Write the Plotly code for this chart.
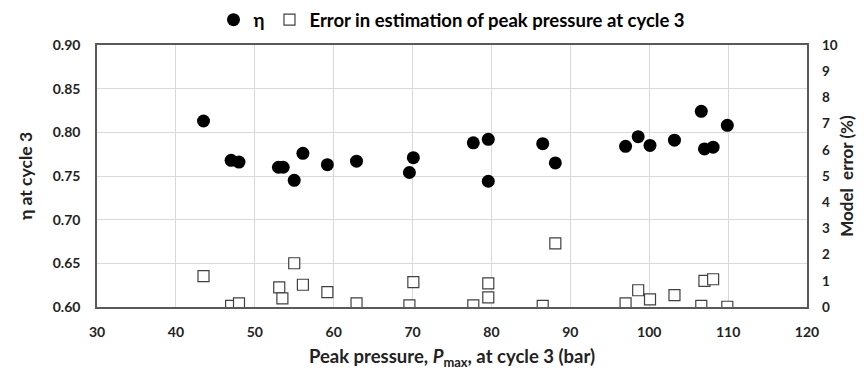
import plotly.graph_objects as go

# Peak pressure (bar) at cycle 3
p_max = [43.5, 47.0, 48.0, 53.0, 53.6, 55.0, 56.1, 59.2, 62.9, 69.6, 70.1,
         77.7, 79.6, 79.6, 86.5, 88.1, 97.0, 98.6, 100.1, 103.2, 106.6, 107.0, 108.1, 109.9]
eta = [0.813, 0.768, 0.766, 0.760, 0.760, 0.745, 0.776, 0.763, 0.767, 0.754, 0.771,
       0.788, 0.792, 0.744, 0.787, 0.765, 0.784, 0.795, 0.785, 0.791, 0.824, 0.781, 0.783, 0.808]

# Error points (x, model error %)
p_err = [43.5, 47.0, 48.0, 53.1, 53.5, 55.0, 56.1, 59.2, 62.9, 69.6, 70.1,
         77.7, 79.6, 79.6, 86.5, 88.1, 97.0, 98.6, 100.1, 103.2, 106.6, 107.0, 108.1, 109.9]
err = [1.18, 0.04, 0.14, 0.75, 0.33, 1.67, 0.85, 0.57, 0.14, 0.06, 0.95,
       0.06, 0.90, 0.37, 0.04, 2.43, 0.14, 0.64, 0.29, 0.45, 0.04, 1.0, 1.06, 0.01]

FONT = "Lato"
TXT = "#222222"

fig = go.Figure()
fig.add_trace(go.Scatter(
    x=p_max, y=eta, mode="markers", name="η",
    marker=dict(symbol="circle", size=13, color="black", line=dict(width=0)),
))
fig.add_trace(go.Scatter(
    x=p_err, y=err, mode="markers", yaxis="y2",
    name="Error in estimation of peak pressure at cycle 3",
    marker=dict(symbol="square", size=11, color="white", line=dict(width=1.2, color="#404040")),
))

fig.update_layout(
    width=864, height=374,
    margin=dict(l=97, r=57, t=45, b=67, autoexpand=False),
    paper_bgcolor="white", plot_bgcolor="white",
    font=dict(family=FONT, color=TXT, size=14),
    showlegend=True,
    legend=dict(orientation="h", x=0.5, xanchor="center", y=1.095, yanchor="middle",
                font=dict(family=FONT, size=18.5, color="black", weight="bold"),
                itemwidth=30, tracegroupgap=0, bgcolor="rgba(0,0,0,0)"),
    xaxis=dict(range=[30, 120], dtick=10, tick0=30, showgrid=True, gridcolor="#d9d9d9",
               gridwidth=1, showline=True, linecolor="#595959", linewidth=1.5, mirror=True,
               zeroline=False, ticks="", ticklabelstandoff=11,
               tickfont=dict(family=FONT, size=14, color=TXT, weight="bold"),
               title=dict(text="Peak pressure, <i>P</i><sub>max</sub>, at cycle 3 (bar)",
                          font=dict(family=FONT, size=18.5, color=TXT, weight="bold"), standoff=12)),
    yaxis=dict(range=[0.60, 0.90], dtick=0.05, tick0=0.6, tickformat=".2f", showgrid=True,
               gridcolor="#d9d9d9", gridwidth=1, showline=True, linecolor="#595959",
               linewidth=1.5, mirror=True, zeroline=False, ticks="", ticklabelstandoff=12,
               tickfont=dict(family=FONT, size=14, color=TXT, weight="bold"),
               title=dict(text="η at cycle 3",
                          font=dict(family=FONT, size=17.5, color=TXT, weight="bold"), standoff=16)),
    yaxis2=dict(range=[0, 10], dtick=1, overlaying="y", side="right", showgrid=False,
                zeroline=False, showline=False, ticks="", ticklabelstandoff=14,
                tickfont=dict(family=FONT, size=13.5, color=TXT, weight="bold"),
                title=dict(text="Model  error (%)",
                           font=dict(family=FONT, size=17, color=TXT, weight="bold"), standoff=4)),
)

fig.write_html("out.html")
